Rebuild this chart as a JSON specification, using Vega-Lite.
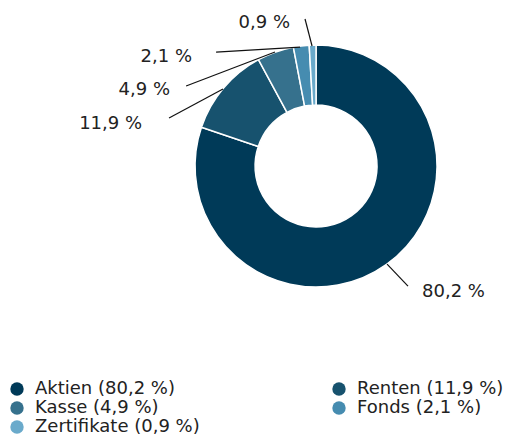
{
  "$schema": "https://vega.github.io/schema/vega-lite/v6.json",
  "width": 510,
  "height": 436,
  "autosize": "none",
  "padding": 0,
  "background": "white",
  "config": {"view": {"stroke": null}, "font": "DejaVu Sans"},
  "datasets": {
    "parts": [
      {"cat": "Aktien", "label": "Aktien (80,2 %)", "value": 80.2, "ord": 1},
      {"cat": "Renten", "label": "Renten (11,9 %)", "value": 11.9, "ord": 2},
      {"cat": "Kasse", "label": "Kasse (4,9 %)", "value": 4.9, "ord": 3},
      {"cat": "Fonds", "label": "Fonds (2,1 %)", "value": 2.1, "ord": 4},
      {"cat": "Zertifikate", "label": "Zertifikate (0,9 %)", "value": 0.9, "ord": 5}
    ],
    "callouts": [
      {"txt": "80,2 %", "x1": 0.587, "y1": -0.81, "x2": 0.76, "y2": -0.992, "lx": 0.876, "ly": -1.041},
      {"txt": "11,9 %", "x1": -1.215, "y1": 0.397, "x2": -0.769, "y2": 0.636, "lx": -1.438, "ly": 0.347},
      {"txt": "4,9 %", "x1": -1.074, "y1": 0.661, "x2": -0.339, "y2": 0.942, "lx": -1.207, "ly": 0.628},
      {"txt": "2,1 %", "x1": -0.826, "y1": 0.942, "x2": -0.132, "y2": 0.983, "lx": -1.025, "ly": 0.901},
      {"txt": "0,9 %", "x1": -0.091, "y1": 1.215, "x2": -0.033, "y2": 0.992, "lx": -0.215, "ly": 1.182}
    ]
  },
  "layer": [
    {
      "data": {"name": "parts"},
      "mark": {"type": "arc", "outerRadius": 121, "innerRadius": 61, "stroke": "white", "strokeWidth": 1.5},
      "encoding": {
        "theta": {"field": "value", "type": "quantitative", "stack": true},
        "order": {"field": "ord", "type": "quantitative"},
        "x": {"datum": 0, "type": "quantitative", "scale": {"domain": [-2.612, 1.603], "nice": false, "zero": false}, "axis": null},
        "y": {"datum": 0, "type": "quantitative", "scale": {"domain": [-2.231, 1.372], "nice": false, "zero": false}, "axis": null},
        "color": {
          "field": "label",
          "type": "nominal",
          "scale": {
            "domain": ["Aktien (80,2 %)", "Kasse (4,9 %)", "Zertifikate (0,9 %)", "Renten (11,9 %)", "Fonds (2,1 %)"],
            "range": ["#003a58", "#36718d", "#6aaacb", "#17526e", "#468cb0"]
          },
          "legend": {
            "title": null,
            "orient": "none",
            "legendX": 8,
            "legendY": 380,
            "columns": 2,
            "columnPadding": 130,
            "rowPadding": 1,
            "symbolType": "circle",
            "symbolSize": 180,
            "symbolStrokeWidth": 0,
            "labelFontSize": 18,
            "labelColor": "#222222",
            "labelOffset": 9,
            "labelLimit": 300
          }
        }
      }
    },
    {
      "data": {"name": "callouts"},
      "mark": {"type": "rule", "color": "#111111", "strokeWidth": 1.2},
      "encoding": {
        "x": {"field": "x1", "type": "quantitative"},
        "x2": {"field": "x2"},
        "y": {"field": "y1", "type": "quantitative"},
        "y2": {"field": "y2"}
      }
    },
    {
      "data": {"name": "callouts"},
      "transform": [{"filter": "datum.txt != '80,2 %'"}],
      "mark": {"type": "text", "align": "right", "baseline": "middle", "fontSize": 18, "color": "#222222"},
      "encoding": {
        "x": {"field": "lx", "type": "quantitative"},
        "y": {"field": "ly", "type": "quantitative"},
        "text": {"field": "txt"}
      }
    },
    {
      "data": {"name": "callouts"},
      "transform": [{"filter": "datum.txt == '80,2 %'"}],
      "mark": {"type": "text", "align": "left", "baseline": "middle", "fontSize": 18, "color": "#222222"},
      "encoding": {
        "x": {"field": "lx", "type": "quantitative"},
        "y": {"field": "ly", "type": "quantitative"},
        "text": {"field": "txt"}
      }
    }
  ]
}
